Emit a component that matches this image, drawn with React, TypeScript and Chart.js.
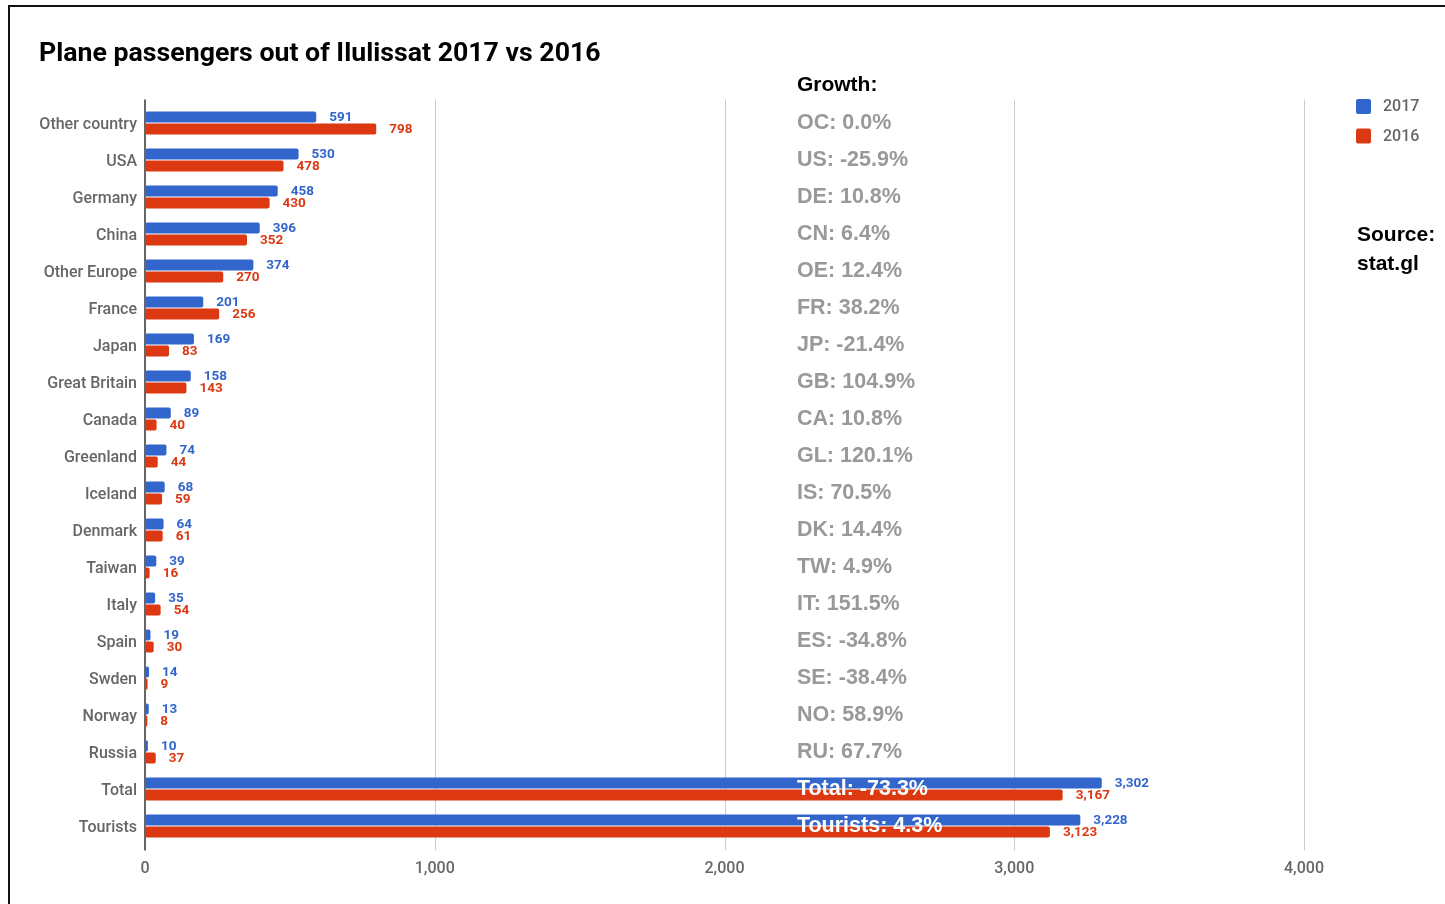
import { useEffect, useRef } from "react";
import { Chart, registerables } from "chart.js";

Chart.register(...registerables);

// Passenger counts by nationality, 2017 against 2016
const categories = [
  "Other country", "USA", "Germany", "China", "Other Europe", "France", "Japan",
  "Great Britain", "Canada", "Greenland", "Iceland", "Denmark", "Taiwan", "Italy",
  "Spain", "Swden", "Norway", "Russia", "Total", "Tourists",
];
const passengers2017 = [591, 530, 458, 396, 374, 201, 169, 158, 89, 74, 68, 64, 39, 35, 19, 14, 13, 10, 3302, 3228];
const passengers2016 = [798, 478, 430, 352, 270, 256, 83, 143, 40, 44, 59, 61, 16, 54, 30, 9, 8, 37, 3167, 3123];
const growthLabels = [
  "OC: 0.0%", "US: -25.9%", "DE: 10.8%", "CN: 6.4%", "OE: 12.4%", "FR: 38.2%", "JP: -21.4%",
  "GB: 104.9%", "CA: 10.8%", "GL: 120.1%", "IS: 70.5%", "DK: 14.4%", "TW: 4.9%", "IT: 151.5%",
  "ES: -34.8%", "SE: -38.4%", "NO: 58.9%", "RU: 67.7%", "Total: -73.3%", "Tourists: 4.3%",
];
const whiteGrowthRows = ["Total", "Tourists"];
const seriesNames = ["2017", "2016"];
const axisMax = 4000;
const axisStep = 1000;

const BLUE = "#3366cc";
const RED = "#dc3912";
const TITLE = "Plane passengers out of Ilulissat 2017 vs 2016";

export default function App() {
  const canvasRef = useRef<HTMLCanvasElement | null>(null);

  useEffect(() => {
    const canvas = canvasRef.current;
    if (!canvas) return;

    const overlay = {
      id: "overlay",
      beforeDatasetsDraw(chart: any) {
        const ctx = chart.ctx as CanvasRenderingContext2D;
        const xs = chart.scales.x;
        const top = chart.chartArea.top - 5;
        const bottom = chart.chartArea.bottom + 6;
        ctx.save();
        ctx.strokeStyle = "#cccccc";
        ctx.lineWidth = 1;
        for (let v = axisStep; v <= axisMax; v += axisStep) {
          const px = Math.round(xs.getPixelForValue(v)) + 0.5;
          ctx.beginPath();
          ctx.moveTo(px, top);
          ctx.lineTo(px, bottom);
          ctx.stroke();
        }
        ctx.restore();
      },
      afterDatasetsDraw(chart: any) {
        const ctx = chart.ctx as CanvasRenderingContext2D;
        const xs = chart.scales.x;
        const ys = chart.scales.y;
        const area = chart.chartArea;
        ctx.save();

        // vertical axis line at zero
        const zx = xs.getPixelForValue(0);
        ctx.strokeStyle = "#666666";
        ctx.lineWidth = 2;
        ctx.beginPath();
        ctx.moveTo(zx, area.top - 5);
        ctx.lineTo(zx, area.bottom + 6);
        ctx.stroke();

        // value labels beside each bar
        ctx.font = "bold 13.5px Roboto";
        ctx.textAlign = "left";
        ctx.textBaseline = "middle";
        chart.data.datasets.forEach((ds: any, i: number) => {
          const meta = chart.getDatasetMeta(i);
          ctx.fillStyle = ds.backgroundColor;
          meta.data.forEach((bar: any, j: number) => {
            const val = ds.data[j] as number;
            ctx.fillText(val.toLocaleString("en-US"), bar.x + 13, bar.y + 0.5);
          });
        });

        // growth column
        const gx = xs.getPixelForValue(2250);
        ctx.font = "bold 21px 'Liberation Sans'";
        ctx.fillStyle = "#000000";
        ctx.fillText("Growth:", gx, ys.getPixelForValue(0) - 38);
        ctx.font = "bold 21.5px 'Liberation Sans'";
        growthLabels.forEach((txt, j) => {
          ctx.fillStyle = whiteGrowthRows.includes(categories[j]) ? "#ffffff" : "#999999";
          ctx.fillText(txt, gx, ys.getPixelForValue(j) + 0.5);
        });

        // title
        ctx.fillStyle = "#000000";
        ctx.font = "bold 26.7px Roboto";
        ctx.fillText(TITLE, 39, 54);

        // legend
        const lx = 1356;
        chart.data.datasets.forEach((ds: any, i: number) => {
          const ly = 99 + i * 29.5;
          ctx.fillStyle = ds.backgroundColor;
          ctx.beginPath();
          (ctx as any).roundRect(lx, ly, 15, 15, 2);
          ctx.fill();
          ctx.fillStyle = "#666666";
          ctx.font = "500 16px Roboto";
          ctx.fillText(seriesNames[i], lx + 27, ly + 8);
        });

        // source note
        ctx.fillStyle = "#000000";
        ctx.font = "bold 21px 'Liberation Sans'";
        ctx.fillText("Source:", 1357, 235);
        ctx.fillText("stat.gl", 1357, 264);

        ctx.restore();
      },
    };

    const chart = new Chart(canvas, {
      type: "bar",
      data: {
        labels: categories,
        datasets: [
          { label: seriesNames[0], data: passengers2017, backgroundColor: BLUE, borderRadius: 2, borderSkipped: false },
          { label: seriesNames[1], data: passengers2016, backgroundColor: RED, borderRadius: 2, borderSkipped: false },
        ],
      },
      options: {
        indexAxis: "y",
        animation: false,
        responsive: true,
        maintainAspectRatio: false,
        layout: { padding: { top: 104.5, right: 141, left: 0, bottom: 0 } },
        datasets: { bar: { categoryPercentage: 0.66, barPercentage: 0.9 } },
        plugins: {
          legend: { display: false },
          title: { display: false },
          tooltip: { enabled: false },
        },
        scales: {
          x: {
            min: 0,
            max: axisMax,
            ticks: {
              stepSize: axisStep,
              color: "#666666",
              font: { family: "Roboto", size: 16, weight: 500 },
              padding: 15,
            },
            grid: { display: false, drawTicks: false },
            border: { display: false },
            afterFit(scale: any) {
              scale.height = 59.5;
            },
          },
          y: {
            ticks: {
              color: "#666666",
              font: { family: "Roboto", size: 16, weight: 500 },
              padding: 8,
              labelOffset: 1.5,
            },
            grid: { display: false, drawTicks: false },
            border: { display: false },
            afterFit(scale: any) {
              scale.width = 145;
            },
          },
        },
      } as any,
      plugins: [overlay],
    });

    return () => chart.destroy();
  }, []);

  return (
    <div
      style={{
        position: "absolute",
        left: 0,
        top: 0,
        width: 1445,
        height: 904,
        overflow: "hidden",
        background: "#ffffff",
      }}
    >
      <div
        style={{
          position: "absolute",
          left: 8,
          top: 5,
          width: 1500,
          height: 1000,
          borderTop: "2px solid #111",
          borderLeft: "2px solid #111",
        }}
      />
      <canvas ref={canvasRef} style={{ position: "absolute", left: 0, top: 0 }} />
    </div>
  );
}
